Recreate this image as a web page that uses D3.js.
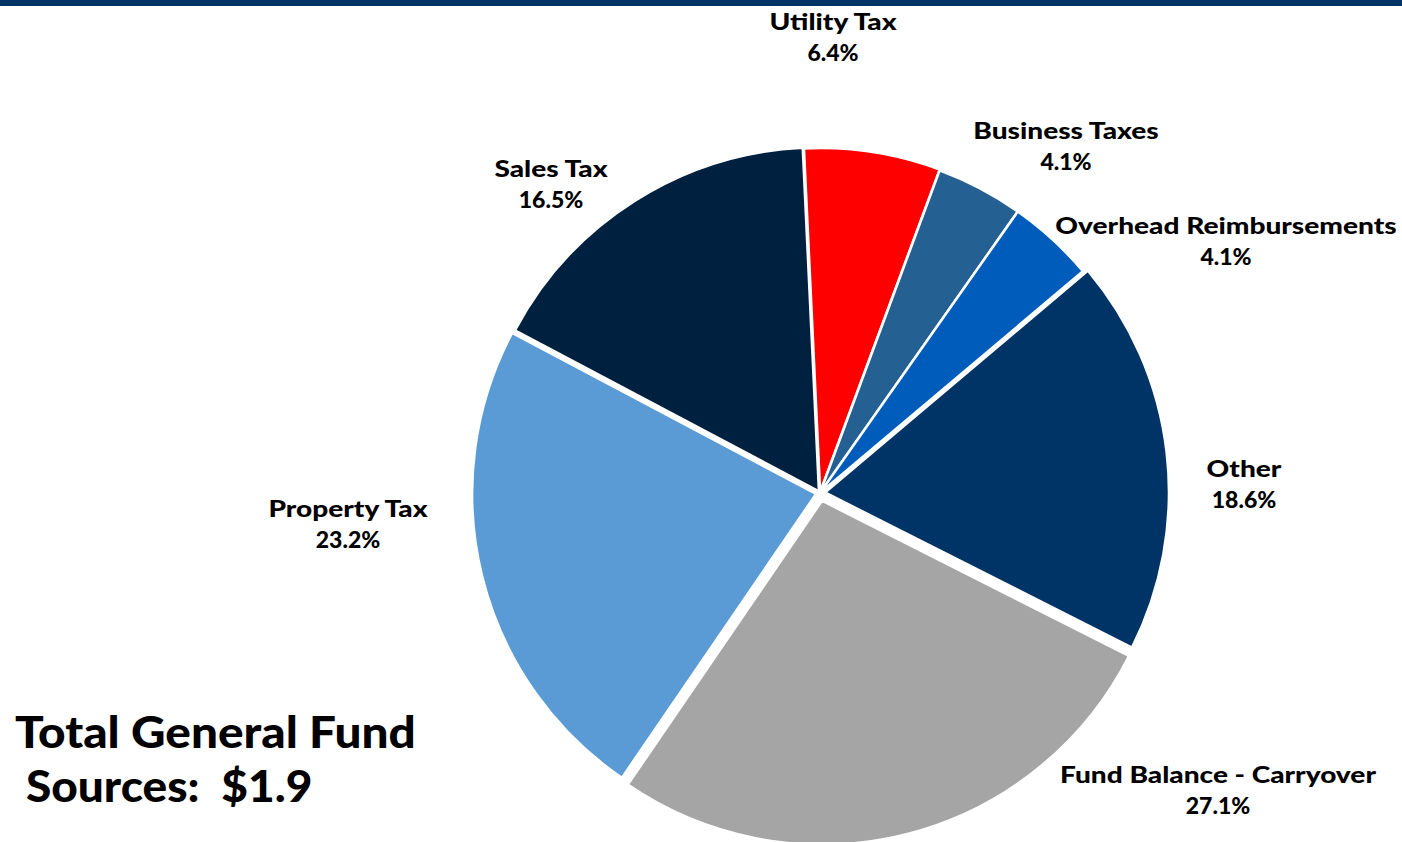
<!DOCTYPE html>
<html>
<head>
<meta charset="utf-8">
<script src="https://cdn.jsdelivr.net/npm/d3@7"></script>
<style>
  html, body { margin: 0; padding: 0; background: #fff; }
  svg { display: block; }
  text { font-family: "Lato", "Open Sans", sans-serif; font-weight: 900; fill: #000; }
</style>
</head>
<body>
<svg id="chart" width="1402" height="842"></svg>
<script>
// ---- data ----
const categories = ["Utility Tax", "Business Taxes", "Overhead Reimbursements", "Other", "Fund Balance - Carryover", "Property Tax", "Sales Tax"];
const values = [6.4, 4.1, 4.1, 18.6, 27.1, 23.2, 16.5];
const percentLabels = ["6.4%", "4.1%", "4.1%", "18.6%", "27.1%", "23.2%", "16.5%"];
const titleLines = ["Total General Fund", " Sources:  $1.9"];

// ---- styling / layout (not data) ----
const colors = ["#FF0000", "#256093", "#005CBB", "#003366", "#A5A5A5", "#5B9BD5", "#002040"];
const explode = [1, 0, 0, 5, 8, 4, 2];
// label centres relative to pie centre (dx, dy)
const labelOffsets = [[13, -471], [246, -362], [406, -267], [424, -24], [398, 282], [-472, 16], [-269, -324]];

const W = 1402, H = 842;
const cx = 820, cy = 493, R = 344;
const svg = d3.select("#chart");

// top band
svg.append("rect").attr("x", 0).attr("y", 0).attr("width", W).attr("height", 6).attr("fill", "#003366");

const data = categories.map((c, i) => ({ name: c, value: values[i], pct: percentLabels[i], color: colors[i], ex: explode[i], lo: labelOffsets[i] }));

const start = -2.7 * Math.PI / 180;
const pie = d3.pie().value(d => d.value).sort(null).startAngle(start).endAngle(start + 2 * Math.PI);
const arc = d3.arc().innerRadius(0).outerRadius(R);

const g = svg.append("g").attr("transform", `translate(${cx},${cy})`);
g.selectAll("path").data(pie(data)).join("path")
  .attr("d", arc)
  .attr("fill", d => d.data.color)
  .attr("stroke", "#fff")
  .attr("stroke-width", 2.5)
  .attr("stroke-linejoin", "round")
  .attr("transform", d => {
    const m = (d.startAngle + d.endAngle) / 2;
    return `translate(${Math.sin(m) * d.data.ex},${-Math.cos(m) * d.data.ex})`;
  });

// labels
const lab = g.selectAll("g.lab").data(data).join("g").attr("class", "lab")
  .attr("transform", d => `translate(${d.lo[0]},${d.lo[1]})`);
lab.append("text").attr("text-anchor", "middle").attr("x", 0).attr("y", 0).attr("dy", "0.35em")
  .attr("transform", "scale(1.22,1)")
  .attr("font-size", 23).text(d => d.name);
lab.append("text").attr("text-anchor", "middle").attr("y", 31).attr("dy", "0.35em")
  .attr("font-size", 23).text(d => d.pct);

// title
svg.append("g").selectAll("text").data(titleLines).join("text")
  .attr("x", 0).attr("y", 0)
  .attr("transform", (d, i) => `translate(15,${748 + i * 54}) scale(${i === 0 ? 1.11 : 1.07},1)`)
  .attr("font-size", 43)
  .attr("xml:space", "preserve")
  .style("white-space", "pre")
  .text(d => d);
</script>
</body>
</html>
